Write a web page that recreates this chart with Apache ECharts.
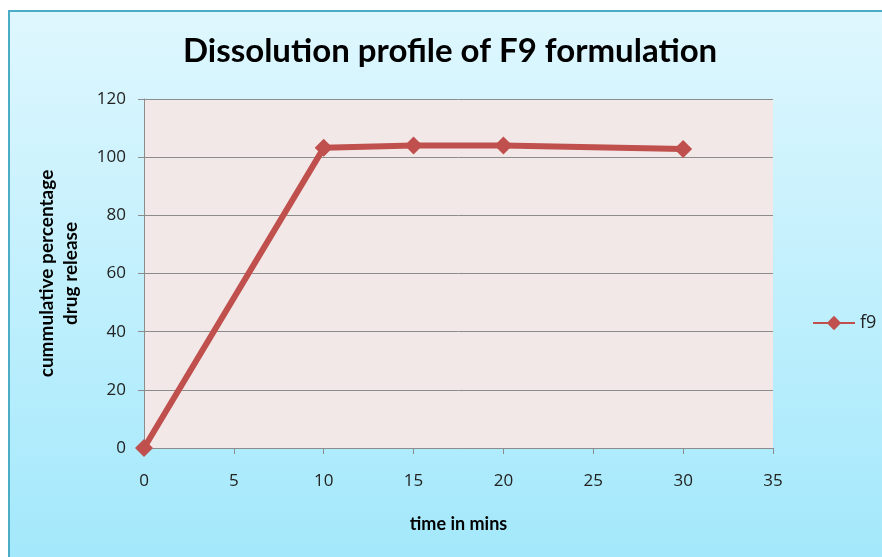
<!DOCTYPE html>
<html>
<head>
<meta charset="UTF-8"/>
<title>Dissolution profile of F9 formulation</title>
<script src="https://cdn.jsdelivr.net/npm/echarts@6/dist/echarts.min.js"></script>
<style>
html, body { margin: 0; padding: 0; background: #fff; }
#main { width: 882px; height: 557px; }
</style>
</head>
<body>
<div id="main"></div>
<script type="text/javascript">
// time points (mins) and cumulative % release
var timeMins = [0, 10, 15, 20, 30];
var releaseF9 = [0, 103.2, 104.0, 104.0, 102.8];
var seriesName = 'f9';

var points = [];
for (var i = 0; i < timeMins.length; i++) {
    points.push([timeMins[i], releaseF9[i]]);
}

var myChart = echarts.init(document.getElementById('main'));
var labelFont = 'Open Sans';
var boldFont = 'Lato';

var option = {
    animation: false,
    backgroundColor: '#ffffff',
    graphic: [{
        type: 'rect',
        z: -10,
        shape: { x: 9, y: 11, width: 900, height: 600 },
        style: {
            fill: new echarts.graphic.LinearGradient(0, 0, 0, 1, [
                { offset: 0, color: '#dff7fe' },
                { offset: 1, color: '#9de7fb' }
            ]),
            stroke: '#4bacc6',
            lineWidth: 2
        }
    }],
    title: {
        text: 'Dissolution profile of F9 formulation',
        left: 178,
        top: 30,
        textStyle: {
            fontFamily: boldFont,
            fontWeight: 'bold',
            fontSize: 33,
            color: '#000'
        }
    },
    legend: {
        data: [seriesName],
        left: 807,
        top: 309,
        itemWidth: 42,
        itemHeight: 18,
        itemGap: 4,
        textStyle: { fontFamily: labelFont, fontSize: 18, color: '#222' }
    },
    grid: {
        left: 144,
        top: 99,
        right: 109,
        bottom: 109,
        show: true,
        backgroundColor: '#f2e8e7',
        borderWidth: 0
    },
    xAxis: {
        type: 'value',
        min: 0,
        max: 35,
        interval: 5,
        name: 'time in mins',
        nameLocation: 'middle',
        nameGap: 67,
        nameTextStyle: { fontFamily: boldFont, fontWeight: 'bold', fontSize: 18, color: '#000' },
        axisLine: { show: true, lineStyle: { color: '#8c8c8c', width: 1 } },
        axisTick: { show: true, length: 6, lineStyle: { color: '#8c8c8c' } },
        axisLabel: { fontFamily: labelFont, fontSize: 17, color: '#222', margin: 25 },
        splitLine: { show: false }
    },
    yAxis: {
        type: 'value',
        min: 0,
        max: 120,
        interval: 20,
        name: 'cummulative percentage\ndrug release',
        nameLocation: 'middle',
        nameGap: 61,
        nameRotate: 90,
        nameTextStyle: { fontFamily: boldFont, fontWeight: 'bold', fontSize: 19, color: '#000', lineHeight: 24 },
        axisLine: { show: true, lineStyle: { color: '#8c8c8c', width: 1 } },
        axisTick: { show: true, length: 6, lineStyle: { color: '#8c8c8c' } },
        axisLabel: { fontFamily: labelFont, fontSize: 17, color: '#222', margin: 18 },
        splitLine: { show: true, lineStyle: { color: '#8c8c8c', width: 1 } }
    },
    series: [{
        name: seriesName,
        type: 'line',
        data: points,
        symbol: 'diamond',
        symbolSize: 18,
        showAllSymbol: true,
        clip: false,
        itemStyle: { color: '#c0504d' },
        lineStyle: { color: '#c0504d', width: 6 }
    }]
};

myChart.setOption(option);
</script>
</body>
</html>
